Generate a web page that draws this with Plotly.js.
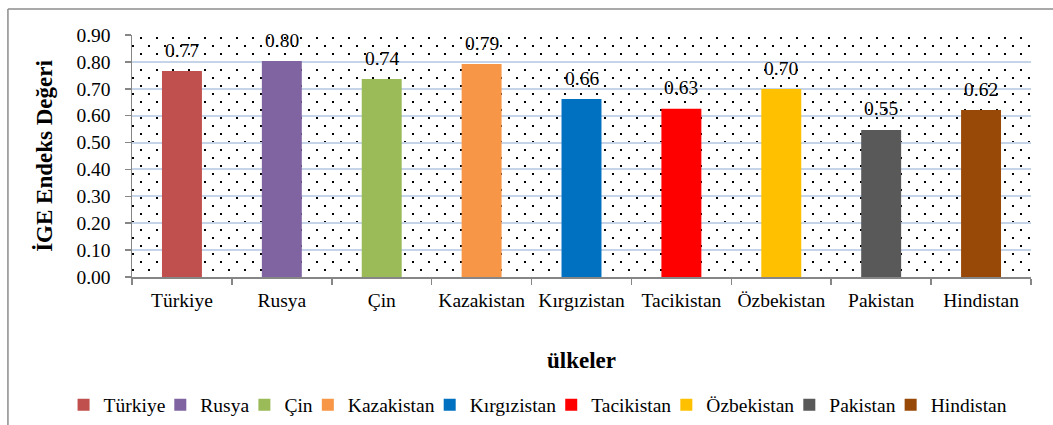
<!DOCTYPE html>
<html><head><meta charset="utf-8">
<script src="https://cdn.plot.ly/plotly-3.0.1.min.js"></script>
<style>html,body{margin:0;padding:0;background:#fff;} #chart{width:1053px;height:425px;}</style>
</head><body><div id="chart"></div>
<script>
const countries = ['Türkiye','Rusya','Çin','Kazakistan','Kırgızistan','Tacikistan','Özbekistan','Pakistan','Hindistan'];
const values = [0.766,0.803,0.736,0.792,0.662,0.626,0.699,0.547,0.621];
const colors = ['#C0504D','#8064A2','#9BBB59','#F79646','#0070C0','#FF0000','#FFC000','#595959','#984807'];
const yTickVals = [0,0.1,0.2,0.3,0.4,0.5,0.6,0.7,0.8,0.9];
const yTitle = 'İGE Endeks Değeri';
const xTitle = 'ülkeler';

const FONT = 'Liberation Serif, Times New Roman, serif';

const traces = countries.map((c,i)=>({
  type:'bar', x:[c], y:[values[i]], name:c,
  marker:{color:colors[i], line:{width:0}},
  hoverinfo:'x+y'
}));

const annotations = countries.map((c,i)=>({
  x:c, y:values[i], xref:'x', yref:'y', text:values[i].toFixed(2),
  showarrow:false, yshift:21, font:{family:FONT, size:19.5, color:'#000'}
}));

const dotSvg = "<svg xmlns='http://www.w3.org/2000/svg' width='899' height='242'><defs><pattern id='p' x='0' y='0' width='16' height='16' patternUnits='userSpaceOnUse'><rect x='0' y='10' width='2' height='2' fill='#000'/><rect x='8' y='2' width='2' height='2' fill='#000'/></pattern></defs><rect width='899' height='242' fill='#fff'/><rect width='899' height='242' fill='url(#p)'/></svg>";

const layout = {
  width:1053, height:425,
  margin:{l:132, r:22, t:35, b:148, pad:0, autoexpand:false},
  paper_bgcolor:'#fff', plot_bgcolor:'rgba(0,0,0,0)',
  font:{family:FONT, size:19.5, color:'#000'},
  barmode:'overlay', bargap:0.6,
  showlegend:true,
  xaxis:{
    type:'category', categoryorder:'array', categoryarray:countries,
    showline:true, linecolor:'#868686', linewidth:1.5,
    ticks:'outside', tickson:'boundaries', ticklen:6, tickcolor:'#868686', tickwidth:1.5,
    ticklabelstandoff:5,
    showgrid:false, zeroline:false,
    tickfont:{family:FONT, size:19.5, color:'#000'},
    title:{text:xTitle, font:{family:FONT, size:23, color:'#000', weight:'bold'}, standoff:42}
  },
  yaxis:{
    range:[0,0.9], tickvals:yTickVals, tickformat:'.2f',
    showline:true, linecolor:'#868686', linewidth:1.5,
    ticks:'outside', ticklen:6, tickcolor:'#868686', tickwidth:1.5,
    ticklabelstandoff:10,
    showgrid:true, gridcolor:'#c6d4ea', gridwidth:2,
    zeroline:false,
    tickfont:{family:FONT, size:19.5, color:'#000'},
    title:{text:yTitle, font:{family:FONT, size:23, color:'#000', weight:'bold'}, standoff:17}
  },
  legend:{
    orientation:'h', x:-0.065, xanchor:'left', y:-0.529, yanchor:'middle',
    font:{family:FONT, size:19.5, color:'#000'}, itemwidth:30, indentation:-10, traceorder:'normal',
    bgcolor:'rgba(0,0,0,0)'
  },
  annotations: annotations,
  images:[{
    source:'data:image/svg+xml;charset=utf-8,'+encodeURIComponent(dotSvg),
    xref:'paper', yref:'paper', x:0, y:1, sizex:1, sizey:1,
    xanchor:'left', yanchor:'top', sizing:'stretch', layer:'below'
  }],
  shapes:[
    {type:'line', xref:'paper', yref:'paper', x0:-0.138, x1:1.05, y0:1.1074, y1:1.1074, line:{color:'#8c8c8c', width:1.5}},
    {type:'line', xref:'paper', yref:'paper', x0:-0.138, x1:-0.138, y0:1.1074, y1:-0.62, line:{color:'#8c8c8c', width:1.5}}
  ]
};

Plotly.newPlot('chart', traces, layout, {displayModeBar:false, staticPlot:true});
</script></body></html>
